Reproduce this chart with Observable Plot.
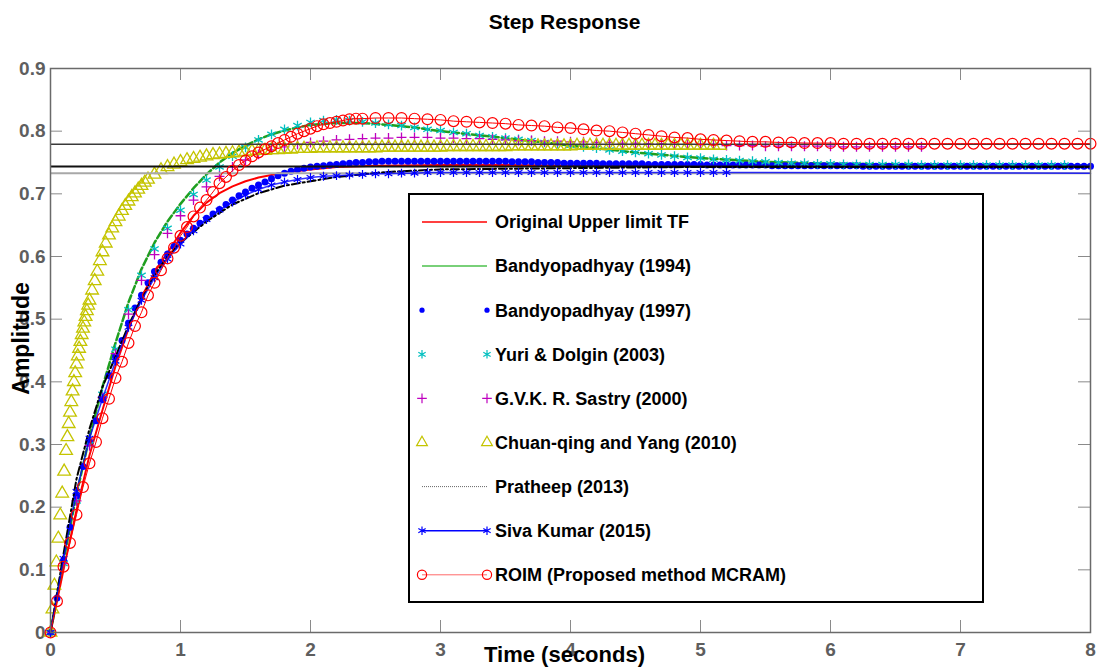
<!DOCTYPE html>
<html><head><meta charset="utf-8">
<script src="https://cdn.jsdelivr.net/npm/d3@7"></script>
<script src="https://cdn.jsdelivr.net/npm/@observablehq/plot@0.6"></script>
<style>
body{margin:0;background:#fff}
#wrap{position:relative;width:1104px;height:670px;overflow:hidden}
#wrap svg g[aria-label="x-axis tick label"], #wrap svg g[aria-label="y-axis tick label"],
#wrap svg g[aria-label="x-axis tick label"] text, #wrap svg g[aria-label="y-axis tick label"] text{
  font-size:19px !important; font-weight:bold !important; font-family:'Liberation Sans', Arial, sans-serif !important;}
</style>
</head><body><div id="wrap"></div>
<script>
// ---------- data ----------
const xTicks = [0, 1, 2, 3, 4, 5, 6, 7, 8];
const yTicks = [0, 0.1, 0.2, 0.3, 0.4, 0.5, 0.6, 0.7, 0.8, 0.9];
const seriesNames = ["Original Upper limit TF", "Bandyopadhyay (1994)", "Bandyopadhyay (1997)",
  "Yuri & Dolgin (2003)", "G.V.K. R. Sastry (2000)", "Chuan-qing and Yang (2010)",
  "Pratheep (2013)", "Siva Kumar (2015)", "ROIM (Proposed method MCRAM)"];
const titleText = "Step Response";
const xLabel = "Time (seconds)";
const yLabel = "Amplitude";

const original = [[0,0],[0.1,0.1],[0.2,0.195],[0.3,0.283],[0.4,0.355],[0.5,0.425],[0.6,0.485],[0.7,0.535],[0.8,0.575],[0.9,0.606],[1.0,0.638],[1.1,0.665],[1.2,0.686],[1.3,0.701],[1.4,0.712],[1.5,0.72],[1.6,0.726],[1.8,0.734],[2.0,0.739],[2.2,0.743],[2.5,0.745],[3,0.746],[3.5,0.746],[4,0.745],[5,0.745],[6,0.744],[8,0.744]];

const bandy1994 = [[0,0],[0.1,0.115],[0.2,0.22],[0.3,0.312],[0.4,0.392],[0.5,0.462],[0.6,0.527],[0.7,0.58],[0.8,0.622],[0.9,0.656],[1.0,0.684],[1.1,0.709],[1.2,0.731],[1.3,0.75],[1.4,0.765],[1.5,0.777],[1.6,0.787],[1.7,0.795],[1.8,0.801],[1.9,0.806],[2.0,0.81],[2.2,0.813],[2.4,0.813],[2.6,0.81],[2.8,0.806],[3.0,0.8],[3.5,0.789],[4.0,0.777],[4.5,0.766],[5.0,0.757],[5.5,0.751],[6.0,0.748],[7.0,0.746],[8.0,0.745]];

const bandy1997 = [[0,0],[0.05,0.055],[0.1,0.115],[0.15,0.168],[0.2,0.218],[0.25,0.265],[0.3,0.303],[0.35,0.338],[0.4,0.372],[0.45,0.41],[0.5,0.44],[0.55,0.466],[0.6,0.494],[0.65,0.518],[0.7,0.538],[0.75,0.558],[0.8,0.576],[0.85,0.591],[0.9,0.604],[0.95,0.616],[1.0,0.626],[1.05,0.636],[1.1,0.645],[1.15,0.653],[1.2,0.661],[1.25,0.668],[1.3,0.675],[1.35,0.683],[1.4,0.69],[1.45,0.697],[1.5,0.703],[1.55,0.709],[1.6,0.714],[1.65,0.719],[1.7,0.724],[1.75,0.729],[1.8,0.733],[1.85,0.736],[1.9,0.739],[1.95,0.741],[2.0,0.743],[2.05,0.744],[2.1,0.745],[2.15,0.746],[2.2,0.747],[2.25,0.748],[2.3,0.749],[2.35,0.75],[2.4,0.75],[2.45,0.751],[2.5,0.751],[2.55,0.752],[2.6,0.752],[2.65,0.752],[2.7,0.752],[2.75,0.752],[2.8,0.752],[2.85,0.752],[2.9,0.752],[2.95,0.752],[3.0,0.752],[3.05,0.752],[3.1,0.752],[3.15,0.752],[3.2,0.752],[3.25,0.752],[3.3,0.752],[3.35,0.752],[3.4,0.752],[3.45,0.752],[3.5,0.752],[3.55,0.751],[3.6,0.751],[3.65,0.751],[3.7,0.751],[3.75,0.75],[3.8,0.75],[3.85,0.75],[3.9,0.75],[3.95,0.749],[4.0,0.749],[4.05,0.749],[4.1,0.749],[4.15,0.749],[4.2,0.749],[4.25,0.748],[4.3,0.748],[4.35,0.748],[4.4,0.748],[4.45,0.748],[4.5,0.748],[4.55,0.748],[4.6,0.747],[4.65,0.747],[4.7,0.747],[4.75,0.747],[4.8,0.747],[4.85,0.747],[4.9,0.747],[4.95,0.747],[5.0,0.747],[5.05,0.746],[5.1,0.746],[5.15,0.746],[5.2,0.746],[5.25,0.746],[5.3,0.746],[5.35,0.746],[5.4,0.746],[5.45,0.746],[5.5,0.746],[5.55,0.745],[5.6,0.745],[5.65,0.745],[5.7,0.745],[5.75,0.745],[5.8,0.745],[5.85,0.745],[5.9,0.745],[5.95,0.745],[6.0,0.745],[6.05,0.745],[6.1,0.745],[6.15,0.745],[6.2,0.745],[6.25,0.744],[6.3,0.744],[6.35,0.744],[6.4,0.744],[6.45,0.744],[6.5,0.744],[6.55,0.744],[6.6,0.744],[6.65,0.744],[6.7,0.744],[6.75,0.744],[6.8,0.744],[6.85,0.744],[6.9,0.744],[6.95,0.744],[7.0,0.744],[7.05,0.744],[7.1,0.744],[7.15,0.744],[7.2,0.744],[7.25,0.744],[7.3,0.744],[7.35,0.744],[7.4,0.744],[7.45,0.744],[7.5,0.744],[7.55,0.744],[7.6,0.744],[7.65,0.744],[7.7,0.744],[7.75,0.744],[7.8,0.744],[7.85,0.744],[7.9,0.744],[7.95,0.744],[8.0,0.744]];

const yuri = [[0,0],[0.1,0.11],[0.2,0.21],[0.3,0.3],[0.4,0.38],[0.5,0.452],[0.6,0.515],[0.7,0.57],[0.8,0.612],[0.9,0.645],[1.0,0.674],[1.1,0.699],[1.2,0.722],[1.3,0.743],[1.4,0.76],[1.5,0.774],[1.6,0.786],[1.7,0.795],[1.8,0.803],[1.9,0.809],[2.0,0.814],[2.1,0.817],[2.2,0.818],[2.3,0.817],[2.4,0.815],[2.5,0.813],[2.6,0.811],[2.7,0.809],[2.8,0.806],[2.9,0.803],[3.0,0.801],[3.1,0.798],[3.2,0.796],[3.3,0.793],[3.4,0.791],[3.5,0.789],[3.6,0.787],[3.7,0.785],[3.8,0.782],[3.9,0.78],[4.0,0.777],[4.1,0.775],[4.2,0.773],[4.3,0.77],[4.4,0.768],[4.5,0.766],[4.6,0.764],[4.7,0.762],[4.8,0.76],[4.9,0.758],[5.0,0.757],[5.1,0.755],[5.2,0.754],[5.3,0.753],[5.4,0.752],[5.5,0.751],[5.6,0.75],[5.7,0.749],[5.8,0.749],[5.9,0.748],[6.0,0.748],[6.1,0.747],[6.2,0.747],[6.3,0.747],[6.4,0.747],[6.5,0.747],[6.6,0.747],[6.7,0.746],[6.8,0.746],[6.9,0.746],[7.0,0.746],[7.1,0.746],[7.2,0.746],[7.3,0.746],[7.4,0.746],[7.5,0.746],[7.6,0.746],[7.7,0.746],[7.8,0.746]];

const sastry = [[0,0],[0.1,0.11],[0.2,0.21],[0.3,0.298],[0.4,0.375],[0.5,0.445],[0.6,0.508],[0.7,0.562],[0.8,0.603],[0.9,0.637],[1.0,0.665],[1.1,0.69],[1.2,0.711],[1.3,0.728],[1.4,0.743],[1.5,0.754],[1.6,0.763],[1.7,0.77],[1.8,0.775],[1.9,0.779],[2.0,0.782],[2.1,0.784],[2.2,0.786],[2.3,0.787],[2.4,0.788],[2.5,0.789],[2.6,0.789],[2.7,0.79],[2.8,0.79],[2.9,0.79],[3.0,0.789],[3.1,0.789],[3.2,0.788],[3.3,0.788],[3.4,0.787],[3.5,0.786],[3.6,0.785],[3.7,0.785],[3.8,0.784],[3.9,0.784],[4.0,0.783],[4.1,0.783],[4.2,0.782],[4.3,0.782],[4.4,0.781],[4.5,0.781],[4.6,0.78],[4.7,0.78],[4.8,0.779],[4.9,0.779],[5.0,0.778],[5.1,0.778],[5.2,0.777],[5.3,0.777],[5.4,0.777],[5.5,0.776],[5.6,0.776],[5.7,0.776],[5.8,0.776],[5.9,0.776],[6.0,0.776],[6.1,0.775],[6.2,0.775],[6.3,0.775],[6.4,0.775],[6.5,0.775],[6.6,0.775],[6.7,0.775]];

const chuan = [[0,0],[0.015,0.037],[0.03,0.075],[0.045,0.112],[0.06,0.15],[0.075,0.187],[0.09,0.222],[0.105,0.257],[0.12,0.29],[0.13,0.312],[0.14,0.333],[0.15,0.351],[0.16,0.368],[0.17,0.385],[0.18,0.4],[0.19,0.414],[0.2,0.428],[0.21,0.441],[0.22,0.453],[0.23,0.464],[0.24,0.475],[0.25,0.485],[0.26,0.495],[0.27,0.504],[0.28,0.513],[0.29,0.522],[0.3,0.53],[0.32,0.546],[0.34,0.561],[0.36,0.576],[0.38,0.593],[0.4,0.607],[0.425,0.621],[0.45,0.634],[0.475,0.645],[0.5,0.655],[0.525,0.664],[0.55,0.673],[0.575,0.681],[0.6,0.688],[0.625,0.695],[0.65,0.701],[0.675,0.707],[0.7,0.713],[0.725,0.718],[0.75,0.723],[0.8,0.731],[0.85,0.738],[0.9,0.743],[0.95,0.747],[1.0,0.751],[1.05,0.754],[1.1,0.756],[1.15,0.758],[1.2,0.76],[1.25,0.762],[1.3,0.763],[1.35,0.764],[1.4,0.765],[1.45,0.766],[1.5,0.767],[1.55,0.768],[1.6,0.769],[1.65,0.769],[1.7,0.77],[1.75,0.77],[1.8,0.771],[1.85,0.771],[1.9,0.772],[1.95,0.772],[2.0,0.772],[2.05,0.773],[2.1,0.773],[2.15,0.773],[2.2,0.773],[2.25,0.773],[2.3,0.773],[2.35,0.773],[2.4,0.773],[2.45,0.773],[2.5,0.773],[2.55,0.774],[2.6,0.774],[2.65,0.774],[2.7,0.774],[2.75,0.774],[2.8,0.774],[2.85,0.774],[2.9,0.774],[2.95,0.774],[3.0,0.774],[3.05,0.775],[3.1,0.775],[3.15,0.775],[3.2,0.775],[3.25,0.775],[3.3,0.775],[3.35,0.775],[3.4,0.775],[3.45,0.775],[3.5,0.775],[3.55,0.776],[3.6,0.776],[3.65,0.776],[3.7,0.776],[3.75,0.776],[3.8,0.776],[3.85,0.776],[3.9,0.776],[3.95,0.776],[4.0,0.776],[4.05,0.777],[4.1,0.777],[4.15,0.777],[4.2,0.777],[4.25,0.777],[4.3,0.777],[4.35,0.777],[4.4,0.777],[4.45,0.777],[4.5,0.777],[4.55,0.777],[4.6,0.777],[4.65,0.777],[4.7,0.777],[4.75,0.777],[4.8,0.777],[4.85,0.777],[4.9,0.777],[4.95,0.777],[5.0,0.777],[5.05,0.777],[5.1,0.777],[5.15,0.777]];

const pratheep = [[0,0],[0.1,0.125],[0.2,0.245],[0.3,0.325],[0.4,0.392],[0.5,0.44],[0.6,0.49],[0.7,0.533],[0.8,0.57],[0.9,0.6],[1.0,0.622],[1.2,0.656],[1.4,0.683],[1.6,0.701],[1.8,0.713],[2.0,0.72],[2.2,0.727],[2.4,0.731],[2.6,0.735],[2.8,0.737],[3.0,0.739],[3.5,0.74],[4.0,0.741],[4.5,0.742],[5.0,0.743],[8.0,0.743]];

const siva = [[0,0],[0.1,0.118],[0.2,0.225],[0.3,0.31],[0.4,0.373],[0.5,0.433],[0.6,0.487],[0.7,0.53],[0.8,0.566],[0.9,0.596],[1.0,0.62],[1.1,0.641],[1.2,0.659],[1.3,0.674],[1.4,0.687],[1.5,0.698],[1.6,0.707],[1.7,0.714],[1.8,0.719],[1.9,0.723],[2.0,0.726],[2.1,0.728],[2.2,0.729],[2.3,0.73],[2.4,0.731],[2.5,0.732],[2.6,0.732],[2.7,0.733],[2.8,0.733],[2.9,0.734],[3.0,0.734],[3.1,0.734],[3.2,0.734],[3.3,0.734],[3.4,0.734],[3.5,0.734],[3.6,0.734],[3.7,0.734],[3.8,0.734],[3.9,0.734],[4.0,0.734],[4.1,0.734],[4.2,0.734],[4.3,0.734],[4.4,0.734],[4.5,0.734],[4.6,0.734],[4.7,0.734],[4.8,0.734],[4.9,0.734],[5.0,0.734],[5.1,0.734],[5.2,0.734]];
const sivaTail = [[5.2,0.734],[8.0,0.733]];

const roim = [[0,0],[0.05,0.05],[0.1,0.105],[0.15,0.143],[0.2,0.188],[0.25,0.232],[0.3,0.27],[0.35,0.304],[0.4,0.342],[0.45,0.373],[0.5,0.406],[0.55,0.432],[0.6,0.462],[0.65,0.489],[0.7,0.511],[0.75,0.538],[0.8,0.558],[0.85,0.578],[0.9,0.597],[0.95,0.614],[1.0,0.633],[1.05,0.647],[1.1,0.664],[1.15,0.678],[1.2,0.69],[1.25,0.703],[1.3,0.717],[1.35,0.727],[1.4,0.737],[1.45,0.746],[1.5,0.753],[1.55,0.76],[1.6,0.766],[1.65,0.771],[1.7,0.776],[1.75,0.781],[1.8,0.786],[1.85,0.791],[1.9,0.796],[1.95,0.8],[2.0,0.804],[2.05,0.808],[2.1,0.811],[2.15,0.813],[2.2,0.815],[2.25,0.817],[2.3,0.819],[2.35,0.82],[2.4,0.82],[2.5,0.821],[2.6,0.821],[2.7,0.821],[2.8,0.82],[2.9,0.819],[3.0,0.818],[3.1,0.816],[3.2,0.815],[3.3,0.814],[3.4,0.813],[3.5,0.812],[3.6,0.81],[3.7,0.809],[3.8,0.808],[3.9,0.806],[4.0,0.805],[4.1,0.803],[4.2,0.801],[4.3,0.8],[4.4,0.798],[4.5,0.796],[4.6,0.794],[4.7,0.792],[4.8,0.79],[4.9,0.789],[5.0,0.787],[5.1,0.786],[5.2,0.785],[5.3,0.784],[5.4,0.783],[5.5,0.783],[5.6,0.782],[5.7,0.782],[5.8,0.781],[5.9,0.781],[6.0,0.781],[6.1,0.78],[6.2,0.78],[6.3,0.78],[6.4,0.78],[6.5,0.78],[6.6,0.78],[6.7,0.78],[6.8,0.78],[6.9,0.78],[7.0,0.78],[7.1,0.78],[7.2,0.78],[7.3,0.78],[7.4,0.78],[7.5,0.78],[7.6,0.78],[7.7,0.78],[7.8,0.78],[7.9,0.78],[8.0,0.78]];

const refLevels = [0.779, 0.7436, 0.733];

// ---------- styles ----------
const C = {red:"#ff0000", green:"#1f9f1f", blue:"#0000ff", cyan:"#00bfbf", magenta:"#bf00bf", yellow:"#c4c400", black:"#000"};
const FONT = "'Liberation Sans', Arial, Helvetica, sans-serif";
const px = {x: d => d[0], y: d => d[1]};

const chart = Plot.plot({
  width: 1104, height: 670,
  marginTop: 68, marginBottom: 38, marginLeft: 50, marginRight: 14,
  x: {domain: [0, 8]},
  y: {domain: [0, 0.9]},
  style: {fontFamily: FONT, fontSize: "19px", fontWeight: "bold", background: "white", overflow: "visible"},
  marks: [
    // inside ticks (MATLAB style) on all four sides
    Plot.gridX(xTicks, {stroke: "#8a8a8a", strokeOpacity: 1, strokeWidth: 1, insetTop: 552}),
    Plot.gridX(xTicks, {stroke: "#8a8a8a", strokeOpacity: 1, strokeWidth: 1, insetBottom: 552}),
    Plot.gridY(yTicks, {stroke: "#8a8a8a", strokeOpacity: 1, strokeWidth: 1, insetRight: 1028}),
    Plot.gridY(yTicks, {stroke: "#8a8a8a", strokeOpacity: 1, strokeWidth: 1, insetLeft: 1028}),
    Plot.axisX(xTicks, {anchor: "bottom", tickSize: 0, tickPadding: 10, tickFormat: d => String(d),
      fontSize: 19, fontWeight: "bold", fill: "#5e5e5e", label: null}),
    Plot.axisY(yTicks, {anchor: "left", tickSize: 0, tickPadding: 5, tickFormat: d => String(d),
      fontSize: 19, fontWeight: "bold", fill: "#5e5e5e", label: null}),

    Plot.line(original, {...px, stroke: C.red, strokeWidth: 2}),
    Plot.line(bandy1994, {...px, stroke: C.green, strokeWidth: 2.5, strokeDasharray: "7,3"}),
    Plot.dot(bandy1997, {...px, r: 3.5, fill: C.blue, stroke: "none"}),
    Plot.dot(yuri, {...px, symbol: "asterisk", r: 4.6, stroke: C.cyan, fill: "none", strokeWidth: 1.3}),
    Plot.dot(sastry, {...px, symbol: "plus", r: 3.3, stroke: C.magenta, fill: "none", strokeWidth: 1.3}),
    Plot.dot(chuan, {...px, symbol: "triangle", r: 4.7, stroke: C.yellow, fill: "none", strokeWidth: 1.3}),
    Plot.ruleY([refLevels[0]], {stroke: "#3a3a3a", strokeWidth: 1.5}),
    Plot.ruleY([refLevels[1]], {stroke: "#111", strokeWidth: 2}),
    Plot.ruleY([refLevels[2]], {stroke: "#a8a8a8", strokeWidth: 2}),
    Plot.line(pratheep, {...px, stroke: C.black, strokeWidth: 2, strokeDasharray: "8,3,2,3"}),
    Plot.line(siva.concat(sivaTail.slice(1)), {...px, stroke: C.blue, strokeWidth: 1.5, strokeOpacity: 0.8}),
    Plot.dot(siva, {...px, symbol: "asterisk", r: 4.2, stroke: C.blue, fill: "none", strokeWidth: 1.2}),
    Plot.line(roim, {...px, stroke: C.red, strokeWidth: 1}),
    Plot.dot(roim, {...px, symbol: "circle", r: 5.4, stroke: C.red, fill: "none", strokeWidth: 1.2}),

    Plot.frame({stroke: "#6a6a6a", strokeWidth: 1.5}),

    Plot.text([titleText], {text: d => d, frameAnchor: "top", lineAnchor: "middle", dy: -46, dx: -6,
      fontSize: 21, fontWeight: "bold", fill: "#000"}),
    Plot.text([xLabel], {text: d => d, frameAnchor: "bottom", lineAnchor: "middle", dy: 22, dx: -6,
      fontSize: 22, fontWeight: "bold", fill: "#000"}),
    Plot.text([yLabel], {text: d => d, frameAnchor: "left", textAnchor: "middle", lineAnchor: "middle",
      rotate: -90, dx: -29, dy: -12, fontSize: 23, fontWeight: "bold", fill: "#000"})
  ]
});

const wrap = document.getElementById("wrap");
wrap.appendChild(chart);

// ---------- legend box (overlay) ----------
const legendStyles = [
  {line: {stroke: C.red, width: 1.5}},
  {line: {stroke: "#4cc04c", width: 1.5}},
  {marker: {type: d3.symbolCircle, r: 2.6, fill: C.blue, stroke: "none"}},
  {marker: {type: d3.symbolAsterisk, r: 4, fill: "none", stroke: C.cyan}},
  {marker: {type: d3.symbolPlus, r: 3.2, fill: "none", stroke: C.magenta}},
  {marker: {type: d3.symbolTriangle, r: 4, fill: "none", stroke: C.yellow}},
  {line: {stroke: "#666", width: 1, dash: "1,1"}},
  {line: {stroke: C.blue, width: 1.5}, marker: {type: d3.symbolAsterisk, r: 4, fill: "none", stroke: C.blue}},
  {line: {stroke: "#ff6a6a", width: 1}, marker: {type: d3.symbolCircle, r: 4.6, fill: "none", stroke: C.red}}
];

const L = {left: 408, top: 193, w: 576, h: 410, rowY0: 29, rowStep: 44.1, x1: 14, x2: 79, tx: 87};
const leg = d3.create("svg")
  .attr("width", L.w).attr("height", L.h)
  .style("position", "absolute").style("left", L.left + "px").style("top", L.top + "px");
leg.append("rect").attr("x", 1).attr("y", 1).attr("width", L.w - 2).attr("height", L.h - 2)
  .attr("fill", "white").attr("stroke", "#000").attr("stroke-width", 2);
seriesNames.forEach((name, i) => {
  const y = L.rowY0 + i * L.rowStep;
  const s = legendStyles[i];
  if (s.line) {
    leg.append("line").attr("x1", L.x1).attr("x2", L.x2).attr("y1", y).attr("y2", y)
      .attr("stroke", s.line.stroke).attr("stroke-width", s.line.width)
      .attr("stroke-dasharray", s.line.dash || null);
  }
  if (s.marker) {
    const m = s.marker;
    const path = d3.symbol(m.type, Math.PI * m.r * m.r)();
    [L.x1, L.x2].forEach(x => {
      leg.append("path").attr("d", path).attr("transform", `translate(${x},${y})`)
        .attr("fill", m.fill).attr("stroke", m.stroke).attr("stroke-width", 1.2);
    });
  }
  leg.append("text").attr("x", L.tx).attr("y", y).attr("dy", "0.35em")
    .attr("font-family", FONT).attr("font-size", 18).attr("font-weight", "bold").attr("fill", "#000")
    .text(name);
});
wrap.appendChild(leg.node());
</script>
</body></html>
